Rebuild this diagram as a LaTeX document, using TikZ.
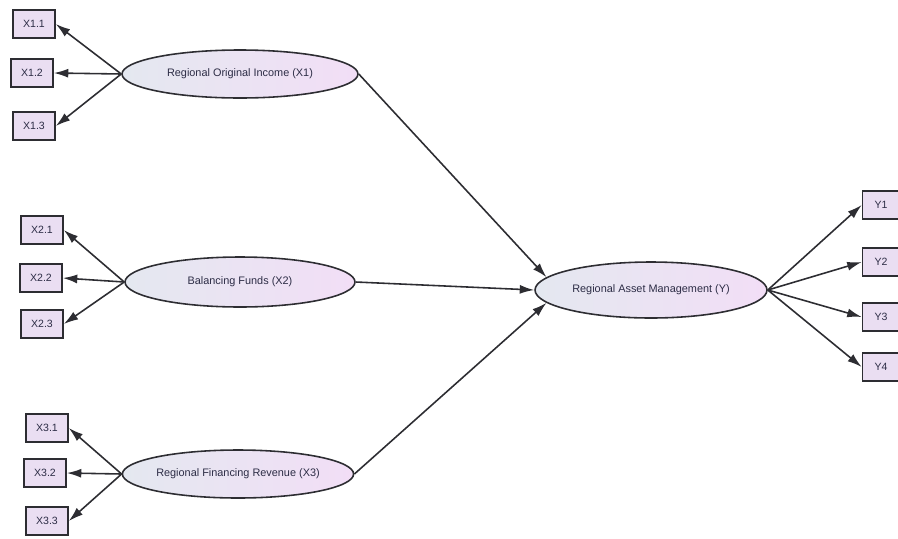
\documentclass[tikz,border=0pt]{standalone}
\usepackage{fontspec}
\setmainfont{Liberation Sans}
\usepackage{tikz}
\usetikzlibrary{arrows.meta, shapes.geometric, positioning, calc}

\definecolor{edge}{RGB}{45,45,50}
\definecolor{ink}{RGB}{45,45,70}
\definecolor{boxfill}{RGB}{234,222,242}
\definecolor{lvleft}{RGB}{228,232,240}
\definecolor{lvright}{RGB}{242,222,246}

\begin{document}
\begin{tikzpicture}[
    x=0.02cm, y=-0.02cm,
    ind/.style={draw=edge, line width=0.9pt, fill=boxfill, minimum width=0.84cm, minimum height=0.56cm,
        inner sep=0pt, font=\fontsize{6}{7}\selectfont, text=ink},
    lv/.style={ellipse, draw=edge, line width=0.9pt, left color=lvleft, right color=lvright,
        minimum height=0.96cm, inner sep=0pt, font=\fontsize{6.2}{7}\selectfont, text=ink},
    arrow/.style={-{Latex[length=2.9mm,width=1.8mm]}, draw=edge, line width=0.9pt}
]
    \useasboundingbox (0,0) rectangle (898,538);

    \node[lv, minimum width=4.72cm] (x1) at (240,74) {Regional Original Income (X1)};
    \node[lv, minimum width=4.6cm, minimum height=1.0cm] (x2) at (240,282) {Balancing Funds (X2)};
    \node[lv, minimum width=4.6cm] (x3) at (238,474) {Regional Financing Revenue (X3)};
    \node[lv, minimum width=4.64cm, minimum height=1.12cm] (y) at (651,290) {Regional Asset Management (Y)};

    \node[ind] (x11) at (34,24) {X1.1};
    \node[ind] (x12) at (32,73) {X1.2};
    \node[ind] (x13) at (34,126) {X1.3};
    \node[ind] (x21) at (42,230) {X2.1};
    \node[ind] (x22) at (41,278) {X2.2};
    \node[ind] (x23) at (42,324) {X2.3};
    \node[ind] (x31) at (47,428) {X3.1};
    \node[ind] (x32) at (45,473) {X3.2};
    \node[ind] (x33) at (47,521) {X3.3};
    \node[ind, minimum width=0.74cm] (y1) at (881,205) {Y1};
    \node[ind, minimum width=0.74cm] (y2) at (881,262) {Y2};
    \node[ind, minimum width=0.74cm] (y3) at (881,317) {Y3};
    \node[ind, minimum width=0.74cm] (y4) at (881,367) {Y4};

    \draw[arrow] (x1.west) -- (x11.east);
    \draw[arrow] (x1.west) -- (x12.east);
    \draw[arrow] (x1.west) -- (x13.east);
    \draw[arrow] (x2.west) -- (x21.east);
    \draw[arrow] (x2.west) -- (x22.east);
    \draw[arrow] (x2.west) -- (x23.east);
    \draw[arrow] (x3.west) -- (x31.east);
    \draw[arrow] (x3.west) -- (x32.east);
    \draw[arrow] (x3.west) -- (x33.east);

    \draw[arrow] (y.east) -- (y1.west);
    \draw[arrow] (y.east) -- (y2.west);
    \draw[arrow] (y.east) -- (y3.west);
    \draw[arrow] (y.east) -- (y4.west);

    \draw[arrow] (x1.east) -- (y.173);
    \draw[arrow] (x2.east) -- (y.west);
    \draw[arrow] (x3.east) -- (y.187);
\end{tikzpicture}
\end{document}
